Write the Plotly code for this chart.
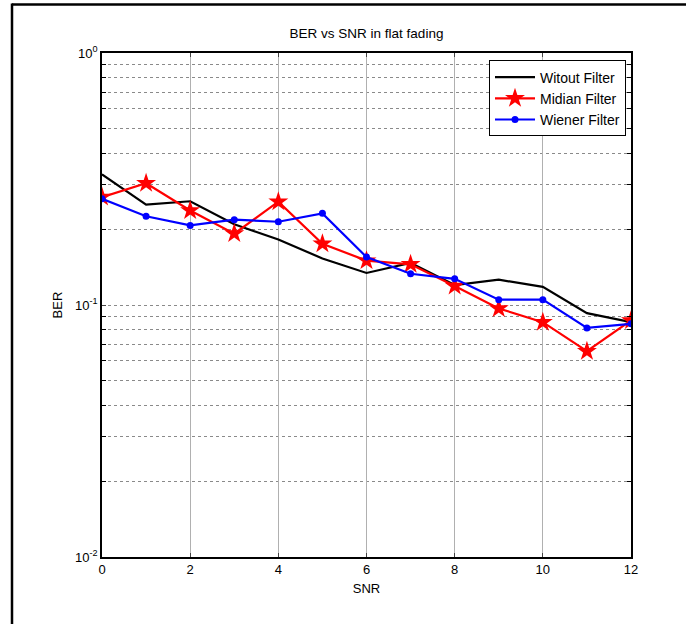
import plotly.graph_objects as go

snr = [0, 1, 2, 3, 4, 5, 6, 7, 8, 9, 10, 11, 12]
ber_without = [0.330, 0.250, 0.258, 0.209, 0.182, 0.153, 0.134, 0.147, 0.120, 0.126, 0.118, 0.0928, 0.0855]
ber_median = [0.268, 0.304, 0.237, 0.192, 0.257, 0.175, 0.150, 0.145, 0.119, 0.0969, 0.0855, 0.0656, 0.0868]
ber_wiener = [0.264, 0.225, 0.207, 0.218, 0.214, 0.231, 0.155, 0.133, 0.127, 0.105, 0.105, 0.0811, 0.0842]

x_ticks = [0, 2, 4, 6, 8, 10, 12]
y_major = [0.01, 0.1, 1]
y_major_text = ["10<sup>-2</sup>", "10<sup>-1</sup>", "10<sup>0</sup>"]
y_minor = [m * d for d in [0.01, 0.1] for m in range(2, 10)]

FONT = "Liberation Sans, Arial, sans-serif"

fig = go.Figure()
fig.add_trace(go.Scatter(x=snr, y=ber_without, mode="lines", name="Witout Filter",
                         line=dict(color="black", width=2.2)))
fig.add_trace(go.Scatter(x=snr, y=ber_median, mode="lines+markers", name="Midian Filter",
                         line=dict(color="red", width=2.2),
                         marker=dict(symbol="star", size=15, color="red")))
fig.add_trace(go.Scatter(x=snr, y=ber_wiener, mode="lines+markers", name="Wiener Filter",
                         line=dict(color="blue", width=2.2),
                         marker=dict(symbol="circle", size=7, color="blue")))

L, R, T, B = 102, 55, 52.5, 67.3
W, H = 686, 624
pw, ph = W - L - R, H - T - B

def px(x):
    return (x - L) / pw

def py(y):
    return (H - B - y) / ph

fig.update_layout(
    width=W, height=H,
    margin=dict(l=L, r=R, t=T, b=B),
    paper_bgcolor="white", plot_bgcolor="white",
    font=dict(family=FONT, size=13, color="black"),
    title=dict(text="BER vs SNR in flat fading", x=(L + pw / 2) / W, xanchor="center",
               y=1 - 33 / H, yanchor="middle", font=dict(size=13.5)),
    showlegend=True,
    legend=dict(x=px(626), y=py(60), xanchor="right", yanchor="top",
                bordercolor="black", borderwidth=1, bgcolor="white",
                font=dict(size=14), tracegroupgap=0, itemwidth=40),
    xaxis=dict(range=[0, 12], tickvals=x_ticks, ticks="inside", ticklen=4,
               showline=True, linecolor="black", linewidth=1.5, mirror="allticks",
               showgrid=True, gridcolor="#b0b0b0", gridwidth=1,
               zeroline=False, tickfont=dict(size=13),
               title=dict(text="SNR", font=dict(size=13), standoff=8)),
    yaxis=dict(type="log", range=[-2, 0], tickvals=y_major, ticktext=y_major_text,
               ticks="inside", ticklen=4, showline=True, linecolor="black", linewidth=1.5,
               mirror="allticks", showgrid=True, gridcolor="#8a8a8a", gridwidth=1,
               griddash="dot", zeroline=False, tickfont=dict(size=13),
               minor=dict(tickmode="array", tickvals=y_minor, ticks="inside", ticklen=4,
                          tickcolor="black", showgrid=True, gridcolor="#8a8a8a",
                          gridwidth=1, griddash="dot"),
               title=dict(text="BER", font=dict(size=13), standoff=10)),
    shapes=[
        dict(type="line", xref="paper", yref="paper", x0=px(12), x1=px(W),
             y0=py(4), y1=py(4), line=dict(color="black", width=2.5)),
        dict(type="line", xref="paper", yref="paper", x0=px(12), x1=px(12),
             y0=py(3), y1=py(H), line=dict(color="black", width=2.5)),
    ],
)

fig.write_html("out.html", config={"displayModeBar": False},
               post_script="document.body.style.margin='0';document.body.style.overflow='hidden';")
